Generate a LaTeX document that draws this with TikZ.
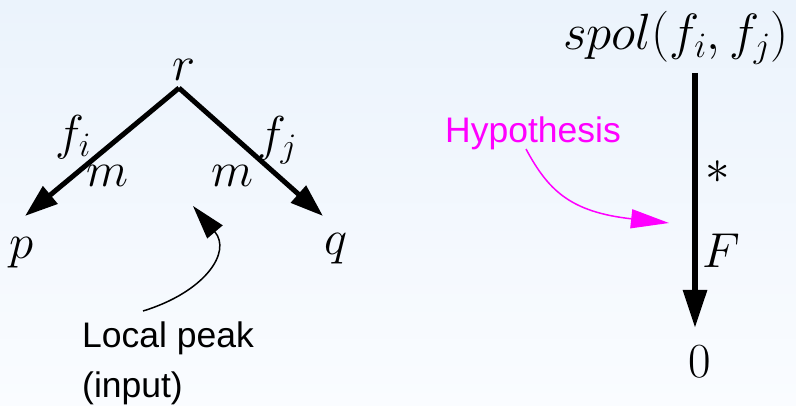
\RequirePackage{fix-cm}
\documentclass[tikz,border=0pt]{standalone}
\usepackage{fontspec}
\newfontfamily\arialfont{Liberation Sans}
\usetikzlibrary{arrows.meta}
\definecolor{bgtop}{RGB}{235,243,252}
\definecolor{bgbot}{RGB}{250,252,255}
\definecolor{hypmag}{RGB}{255,0,255}
\begin{document}
\begin{tikzpicture}[x=1pt,y=-1pt,
  mathlbl/.style={inner sep=0pt, font=\fontsize{49}{58}\selectfont},
  sanslbl/.style={inner sep=0pt, font=\arialfont\fontsize{35.5}{40}\selectfont},
  treearrow/.style={line width=5pt, -{Triangle[length=33pt,width=22pt]}},
  redarrow/.style={line width=6pt, -{Triangle[length=38pt,width=23pt]}},
  peakarrow/.style={line width=1.5pt, -{Triangle[length=34pt,width=20pt]}},
  hyparrow/.style={line width=1.5pt, hypmag, -{Triangle[length=38pt,width=19pt]}}]
\shade[top color=bgtop, bottom color=bgbot] (0,0) rectangle (796,406);
\useasboundingbox (0,0) rectangle (796,406);
% left tree
\node[mathlbl] (r) at (184,70) {$r$};
\node[mathlbl] (p) at (22,253) {$p$};
\node[mathlbl] (q) at (336,249) {$q$};
\node[mathlbl] (fi) at (73,137) {$f_i$};
\node[mathlbl] (mi) at (107,176) {$m$};
\node[mathlbl] (fj) at (277,140) {$f_j$};
\node[mathlbl] (mj) at (232,176) {$m$};
\coordinate (apex) at (179,88);
\coordinate (ptip) at (25,216);
\coordinate (qtip) at (323,216);
\draw[treearrow] (apex) -- (ptip);
\draw[treearrow] (apex) -- (qtip);
% local peak
\node[sanslbl, anchor=base west] (lp1) at (82,348) {Local peak};
\node[sanslbl, anchor=base west] (lp2) at (82,397) {(input)};
\coordinate (lpstart) at (143,311);
\coordinate (lptip) at (193,206);
\draw[peakarrow] (lpstart) .. controls (205,292) and (232,252) .. (lptip);
% right reduction
\node[mathlbl, font=\fontsize{51}{60}\selectfont] (spol) at (676,38) {$spol(f_i,f_j)$};
\node[mathlbl] (star) at (718,172) {$*$};
\node[mathlbl] (F) at (721,251) {$F$};
\node[mathlbl] (zero) at (700,362) {$0$};
\coordinate (vtop) at (695,73);
\coordinate (vbot) at (695,328);
\draw[redarrow] (vtop) -- (vbot);
% hypothesis
\node[sanslbl, text=hypmag, anchor=base] (hyp) at (533,143) {Hypothesis};
\coordinate (hypstart) at (526,149);
\coordinate (hyptip) at (669,223);
\draw[hyparrow] (hypstart) .. controls (548,190) and (570,212) .. (hyptip);
\end{tikzpicture}
\end{document}
